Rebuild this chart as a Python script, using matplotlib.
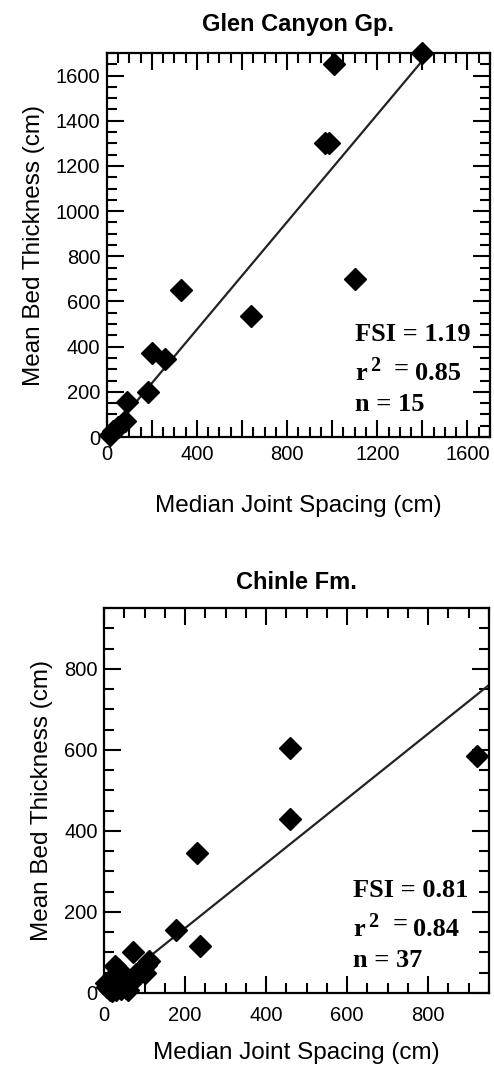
import numpy as np
import matplotlib
matplotlib.use('Agg')
from matplotlib import pyplot as plt
from matplotlib.ticker import MultipleLocator, FuncFormatter

# Glen Canyon Gp. (median joint spacing vs mean bed thickness, cm)
glen_x = [1400, 1010, 970, 985, 1100, 330, 640, 200, 260, 185, 90, 80, 50, 30, 15]
glen_y = [1700, 1650, 1300, 1300, 700, 650, 535, 370, 345, 200, 155, 70, 45, 25, 10]
glen_fsi = 1.19
glen_r2 = '0.85'
glen_n = 15

# Chinle Fm.
chinle_x = [460, 920, 460, 230, 178, 237,
            72, 110, 103, 95, 88, 80, 75, 70, 65, 100,
            27, 35, 30, 22, 40, 45, 18, 12, 8, 25,
            35, 50, 55, 30, 15, 20, 42, 60, 5, 38, 48]
chinle_y = [605, 585, 430, 345, 155, 115,
            100, 78, 68, 62, 55, 48, 40, 30, 25, 50,
            67, 58, 45, 40, 35, 28, 30, 22, 15, 20,
            15, 20, 12, 8, 8, 5, 10, 8, 25, 50, 42]
chinle_fsi = 0.81
chinle_line_slope = 0.80
chinle_r2 = '0.84'
chinle_n = 37

W, H = 494, 1068
fig = plt.figure(figsize=(W / 100, H / 100), dpi=100)

sans = 'Liberation Sans'
serif = 'Liberation Serif'


def panel(rect, xs, ys, slope, lim, xlab_step, title, fsi, r2, n, title_pad, xpad, xlabpad):
    ax = fig.add_axes([rect[0] / W, 1 - rect[3] / H, (rect[2] - rect[0]) / W,
                       (rect[3] - rect[1]) / H])
    ax.plot(xs, ys, 'D', color='black', markersize=11, clip_on=False, zorder=3)
    xl = np.array([0, min(lim, lim / slope)])
    ax.plot(xl, slope * xl, color='#222222', lw=1.6, zorder=2)
    ax.set_xlim(0, lim)
    ax.set_ylim(0, lim)

    ax.xaxis.set_major_locator(MultipleLocator(200))
    ax.xaxis.set_minor_locator(MultipleLocator(50))
    ax.yaxis.set_major_locator(MultipleLocator(200))
    ax.yaxis.set_minor_locator(MultipleLocator(50))
    ax.xaxis.set_major_formatter(
        FuncFormatter(lambda v, p: '%d' % v if round(v) % xlab_step == 0 else ''))
    ax.tick_params(which='both', direction='in', top=True, right=True,
                   width=1.5, labelsize=14.5)
    ax.tick_params(which='major', length=12.5)
    ax.tick_params(which='minor', length=7)
    ax.tick_params(axis='y', pad=4.5)
    ax.tick_params(axis='x', pad=xpad)
    for lab in ax.get_xticklabels() + ax.get_yticklabels():
        lab.set_family(sans)
    for s in ax.spines.values():
        s.set_linewidth(1.6)

    ax.set_title(title, fontsize=17, fontweight='bold', family=sans, pad=title_pad)
    ax.set_xlabel('Median Joint Spacing (cm)', fontsize=17.5, family=sans, labelpad=xlabpad)
    ax.set_ylabel('Mean Bed Thickness (cm)', fontsize=17.5, family=sans, labelpad=8)

    x0 = 0.648
    kw = dict(xycoords='axes fraction', textcoords='offset points',
              fontsize=19, fontweight='bold', family=serif, va='baseline')
    ax.annotate('FSI = %.2f' % fsi, xy=(x0, 0.25), xytext=(0, 0), **kw)
    ax.annotate('r', xy=(x0, 0.148), xytext=(0, 0), **kw)
    kw2 = dict(kw)
    kw2['fontsize'] = 14.5
    ax.annotate('2', xy=(x0, 0.148), xytext=(10.5, 6.5), **kw2)
    ax.annotate('=', xy=(x0, 0.148), xytext=(28, 3.5), **kw)
    ax.annotate(r2, xy=(x0, 0.148), xytext=(43, 0), **kw)
    ax.annotate('n = %d' % n, xy=(x0, 0.067), xytext=(0, 0), **kw)
    return ax


panel((106.7, 53, 490, 437), glen_x, glen_y, glen_fsi, 1700, 400,
      'Glen Canyon Gp.', glen_fsi, glen_r2, glen_n, 16, 6, 22)
panel((104, 608, 489, 993), chinle_x, chinle_y, chinle_line_slope, 950, 200,
      'Chinle Fm.', chinle_fsi, chinle_r2, chinle_n, 14, 9.5, 12)

fig.savefig('out.png', dpi=100)
